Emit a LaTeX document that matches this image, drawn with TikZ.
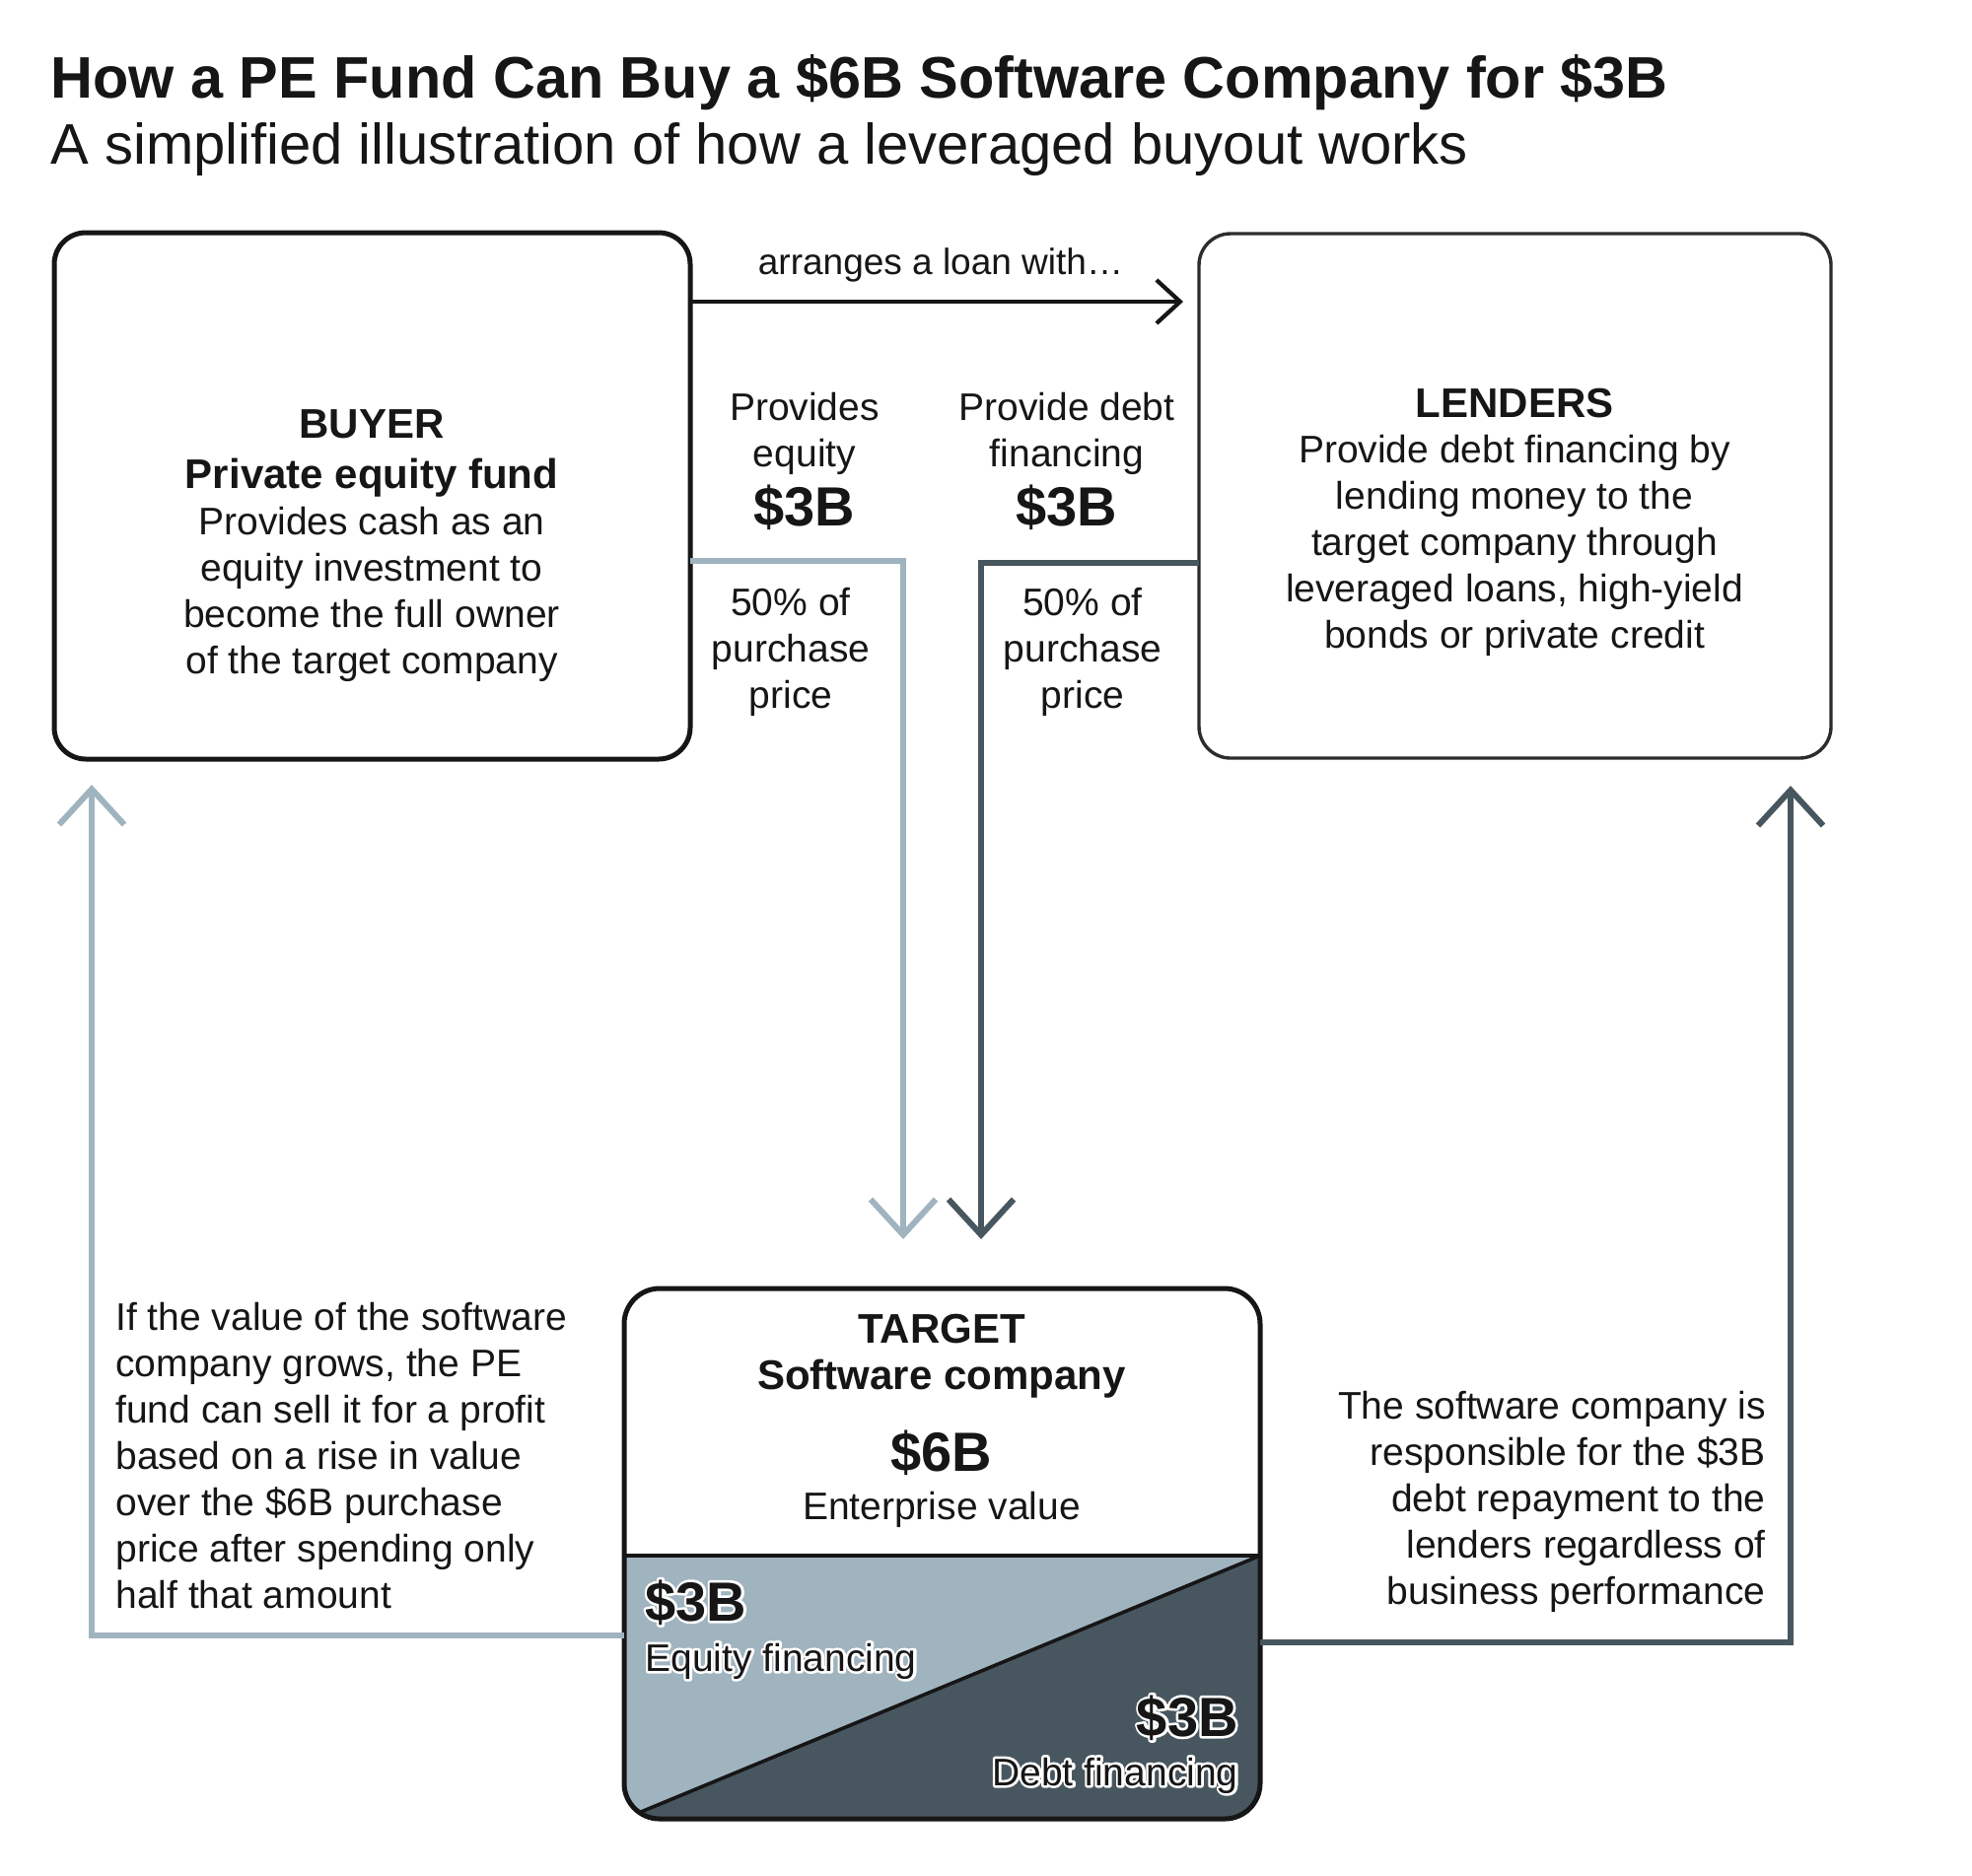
\documentclass[tikz,border=0pt]{standalone}
\usepackage{fontspec}
\setmainfont{Liberation Sans}
\usetikzlibrary{arrows.meta}
\definecolor{eqc}{RGB}{160,180,191}
\definecolor{dbc}{RGB}{72,86,95}
\definecolor{ink}{RGB}{22,22,22}
\newcommand\halo[1]{\leavevmode\rlap{\color{white}\special{pdf:literal direct 2 Tr 2.6 w 1 j}#1\special{pdf:literal direct 0 Tr}}#1}
\begin{document}
\begin{tikzpicture}[x=0.5pt,y=-0.5pt,
  box/.style={draw=ink, line width=2.5pt, rounded corners=16pt, fill=white, outer sep=0pt, inner sep=0pt},
  txt/.style={inner sep=0pt, text=ink, font=\fontsize{19.5}{23.5}\selectfont, align=center},
  head/.style={txt, font=\fontsize{21}{23.5}\selectfont\bfseries},
  big/.style={txt, font=\fontsize{28}{32}\selectfont\bfseries},
  eqline/.style={draw=eqc, line width=3pt},
  dbline/.style={draw=dbc, line width=3pt},
  bigtip/.style={-{Straight Barb[length=18pt,width=33pt]}}
]
\fill[white] (0,0) rectangle (2000,1902);
\useasboundingbox (0,0) rectangle (2000,1902);

% title
\node[inner sep=0pt, text=ink, anchor=base west, font=\fontsize{29.7}{34}\selectfont\bfseries] (title) at (51,99) {How a PE Fund Can Buy a \$6B Software Company for \$3B};
\node[inner sep=0pt, text=ink, anchor=base west, font=\fontsize{29}{34}\selectfont] (subtitle) at (51,166) {A simplified illustration of how a leveraged buyout works};

% boxes
\node[box, minimum width=322.5pt, minimum height=267pt] (buyer) at (377.5,503) {};
\node[box, line width=1.7pt, draw=ink!90, minimum width=320.5pt, minimum height=266pt] (lenders) at (1536.5,503) {};
\node[box, draw=none, rounded corners=18pt, minimum width=322.5pt, minimum height=269pt] (target) at (955.5,1576) {};

% target lower section
\coordinate (div) at (0,1578);
\begin{scope}
  \clip[rounded corners=18pt] (target.south west) rectangle (target.north east);
  \fill[eqc] (target.west |- div) rectangle (target.south east);
  \fill[dbc] (target.south west) -- (target.east |- div) -- (target.south east) -- cycle;
  \draw[ink, line width=1.8pt] (target.south west) -- (target.east |- div);
\end{scope}
\draw[ink, line width=2.2pt] (target.west |- div) -- (target.east |- div);
\draw[ink, line width=2.5pt, rounded corners=18pt] (target.south west) rectangle (target.north east);

% connectors
\coordinate (loanY) at (0,306);
\draw[ink, line width=2.1pt, -{Straight Barb[length=12pt,width=22pt]}, shorten >=8pt] (buyer.east |- loanY) -- (lenders.west |- loanY);
\coordinate (eqP) at (916,569);
\draw[eqline, bigtip, shorten >=25pt] (buyer.east |- eqP) -| (eqP |- target.north);
\coordinate (dbP) at (995,571);
\draw[dbline, bigtip, shorten >=25pt] (lenders.west |- dbP) -| (dbP |- target.north);
\coordinate (rlP) at (93,1659);
\draw[eqline, bigtip, shorten >=13pt] (target.west |- rlP) -| (rlP |- buyer.south);
\coordinate (rrP) at (1816,1666);
\draw[dbline, bigtip, shorten >=14pt] (target.east |- rrP) -| (rrP |- lenders.south);

% texts (anchor=base refers to the last line)
\node[txt, anchor=base, font=\fontsize{21}{25.5}\selectfont\bfseries] (buyerhead) at (377,495) {BUYER\\Private equity fund};
\node[txt, anchor=base] (buyertxt) at (377,683) {Provides cash as an\\equity investment to\\become the full owner\\of the target company};
\node[head, anchor=base] (lendhead) at (1536,423) {LENDERS};
\node[txt, anchor=base] (lendtxt) at (1536,657) {Provide debt financing by\\lending money to the\\target company through\\leveraged loans, high-yield\\bonds or private credit};

\node[txt, anchor=base] (eqlab) at (816,473) {Provides\\equity};
\node[big, anchor=base] (eqamt) at (816,533) {\$3B};
\node[txt, anchor=base] (dblab) at (1082,473) {Provide debt\\financing};
\node[big, anchor=base] (dbamt) at (1082,533) {\$3B};
\node[txt, anchor=base] (eqpct) at (802,718) {50\% of\\purchase\\price};
\node[txt, anchor=base] (dbpct) at (1098,718) {50\% of\\purchase\\price};
\node[txt, anchor=base, font=\fontsize{18.5}{22}\selectfont] (loanlab) at (954,278) {arranges a loan with…};

\node[txt, align=left, anchor=base west] (leftnote) at (117,1631) {If the value of the software\\company grows, the PE\\fund can sell it for a profit\\based on a rise in value\\over the \$6B purchase\\price after spending only\\half that amount};
\node[txt, align=right, anchor=base east] (rightnote) at (1791,1627) {The software company is\\responsible for the \$3B\\debt repayment to the\\lenders regardless of\\business performance};

\node[head, anchor=base] (thead) at (955,1409) {TARGET\\Software company};
\node[big, anchor=base] (tval) at (955,1492) {\$6B};
\node[txt, anchor=base] (tvallab) at (955,1541) {Enterprise value};
\node[big, anchor=base west] (eqfin) at (654,1644) {\halo{\$3B}};
\node[txt, anchor=base west] (eqfinlab) at (654,1695) {\halo{Equity financing}};
\node[big, anchor=base east] (dbfin) at (1256,1761) {\halo{\$3B}};
\node[txt, anchor=base east] (dbfinlab) at (1256,1811) {\halo{Debt financing}};
\end{tikzpicture}
\end{document}
